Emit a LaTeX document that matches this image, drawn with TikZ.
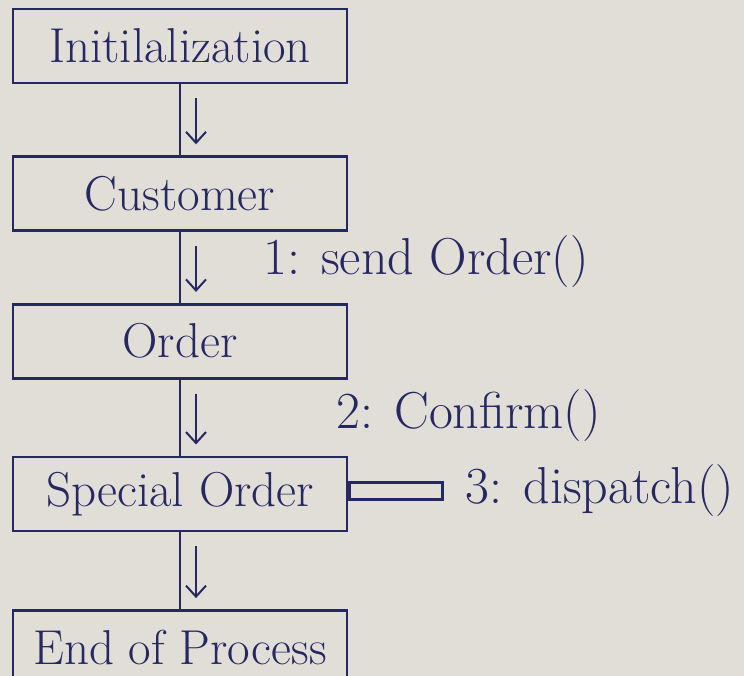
\documentclass[tikz,border=0pt]{standalone}
\usepackage{tikz}
\usepackage{xcolor}
\usetikzlibrary{calc,arrows.meta,positioning}
\definecolor{ink}{RGB}{38,40,98}
\definecolor{paper}{RGB}{225,222,215}

\begin{document}
\begin{tikzpicture}[x=1pt,y=-1pt]
				\tikzstyle{stepbox}=[rectangle, draw=ink, line width=2.6pt, minimum width=334pt, minimum height=74pt, text=ink, font=\fontsize{49}{55}\selectfont]
				\tikzstyle{msg}=[text=ink, anchor=west, inner sep=0pt, font=\fontsize{52}{58}\selectfont]
				\tikzstyle{link}=[draw=ink, line width=2.4pt]
				\tikzstyle{dir}=[draw=ink, line width=2pt, -{Straight Barb[length=11pt,width=20pt]}]
				\fill[paper] (0,0) rectangle (744,676);
				\useasboundingbox (0,0) rectangle (744,676);
				% the five steps
				\node[stepbox] (init) at (180,46) {Initilalization};
				\node[stepbox, below=71pt of init] (customer) {Customer};
				\node[stepbox, below=71pt of customer] (order) {Order};
				\node[stepbox, below=76pt of order] (special) {Special Order};
				\node[stepbox, below=77pt of special] (endproc) {End of Process};
				\node[rectangle, draw=ink, line width=2.4pt, minimum width=93pt, minimum height=17pt, inner sep=0pt, anchor=west] (stub) at ($(special.east)+(0,-3)$) {};
				% links and direction marks
				\foreach \a/\b in {init/customer, customer/order, order/special, special/endproc}{
					\draw[link] (\a) -- (\b);
					\draw[dir] ($(\a.south)+(16,14)$) -- ($(\b.north)+(16,-11)$);
				}
				% messages
				\node[msg] (m1) at ($(customer.south east)+(-85,30)$) {1: send Order()};
				\node[msg] (m2) at ($(order.south east)+(-12,36)$) {2: Confirm()};
				\node[msg, right=22pt of stub] (m3) {3: dispatch()};
			\end{tikzpicture}
\end{document}
